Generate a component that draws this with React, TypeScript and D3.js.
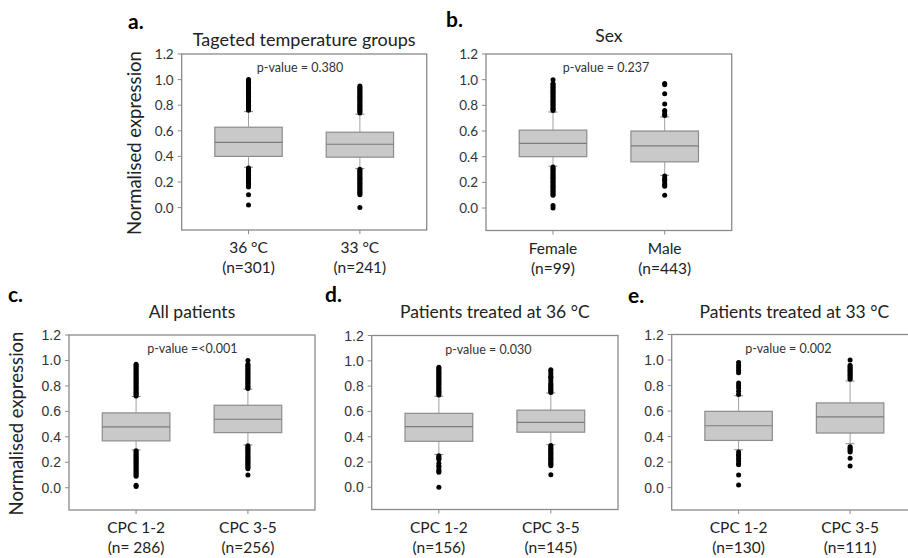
import React from "react";
import * as d3 from "d3";

// panel texts
const panelLabels = ["a.", "b.", "c.", "d.", "e."];
const panelTitles = [
  "Tageted temperature groups",
  "Sex",
  "All patients",
  "Patients treated at 36 °C",
  "Patients treated at 33 °C",
];
const pValues = [
  "p-value = 0.380",
  "p-value = 0.237",
  "p-value =<0.001",
  "p-value = 0.030",
  "p-value = 0.002",
];
const categories = [
  ["36 °C", "33 °C"],
  ["Female", "Male"],
  ["CPC 1-2", "CPC 3-5"],
  ["CPC 1-2", "CPC 3-5"],
  ["CPC 1-2", "CPC 3-5"],
];
const counts = [
  ["(n=301)", "(n=241)"],
  ["(n=99)", "(n=443)"],
  ["(n= 286)", "(n=256)"],
  ["(n=156)", "(n=145)"],
  ["(n=130)", "(n=111)"],
];
const yTicks = [0.0, 0.2, 0.4, 0.6, 0.8, 1.0, 1.2];

// box statistics, [panel][category]
const q1 = [[0.40, 0.394], [0.40, 0.36], [0.368, 0.433], [0.364, 0.436], [0.37, 0.428]];
const medians = [[0.51, 0.495], [0.503, 0.485], [0.478, 0.538], [0.48, 0.514], [0.485, 0.554]];
const q3 = [[0.628, 0.589], [0.607, 0.60], [0.588, 0.648], [0.585, 0.61], [0.598, 0.664]];
const whiskerLow = [[0.315, 0.305], [0.326, 0.255], [0.297, 0.336], [0.26, 0.337], [0.297, 0.344]];
const whiskerHigh = [[0.75, 0.73], [0.748, 0.71], [0.717, 0.774], [0.72, 0.746], [0.72, 0.836]];

// outliers, [panel][category]
const outliers = [
  [
    [0.76, 0.77, 0.78, 0.79, 0.8, 0.81, 0.82, 0.83, 0.84, 0.85, 0.86, 0.87, 0.88, 0.89, 0.9, 0.91, 0.92, 0.93, 0.94, 0.95, 0.96, 0.97, 0.98, 0.99, 1.0,
      0.31, 0.3, 0.29, 0.28, 0.27, 0.26, 0.25, 0.24, 0.23, 0.22, 0.21, 0.2, 0.19, 0.18, 0.17, 0.16, 0.1, 0.02],
    [0.74, 0.75, 0.76, 0.77, 0.78, 0.79, 0.8, 0.81, 0.82, 0.83, 0.84, 0.85, 0.86, 0.87, 0.88, 0.89, 0.9, 0.91, 0.92, 0.93, 0.94, 0.95,
      0.3, 0.29, 0.28, 0.27, 0.26, 0.25, 0.24, 0.23, 0.22, 0.21, 0.2, 0.19, 0.18, 0.17, 0.16, 0.15, 0.14, 0.13, 0.12, 0.11, 0.1, 0.0],
  ],
  [
    [0.76, 0.77, 0.78, 0.79, 0.8, 0.81, 0.82, 0.83, 0.84, 0.85, 0.86, 0.87, 0.88, 0.89, 0.9, 0.91, 0.92, 0.93, 0.94, 0.95, 0.96, 0.97, 1.0,
      0.32, 0.31, 0.3, 0.29, 0.28, 0.27, 0.26, 0.25, 0.24, 0.23, 0.22, 0.21, 0.2, 0.19, 0.18, 0.17, 0.16, 0.15, 0.14, 0.13, 0.12, 0.11, 0.1, 0.02, 0.0],
    [0.72, 0.73, 0.75, 0.76, 0.81, 0.89, 0.96, 0.97,
      0.25, 0.23, 0.22, 0.21, 0.19, 0.18, 0.17, 0.1],
  ],
  [
    [0.72, 0.73, 0.74, 0.75, 0.76, 0.77, 0.78, 0.79, 0.8, 0.81, 0.82, 0.83, 0.84, 0.85, 0.86, 0.87, 0.88, 0.89, 0.9, 0.91, 0.92, 0.93, 0.94, 0.95, 0.96, 0.97,
      0.29, 0.28, 0.27, 0.26, 0.25, 0.24, 0.23, 0.22, 0.21, 0.2, 0.19, 0.18, 0.17, 0.16, 0.15, 0.14, 0.13, 0.12, 0.11, 0.1, 0.09, 0.02, 0.01],
    [0.78, 0.79, 0.8, 0.81, 0.82, 0.83, 0.84, 0.85, 0.86, 0.87, 0.88, 0.89, 0.9, 0.91, 0.92, 0.93, 0.94, 0.95, 0.96, 0.97, 1.0,
      0.33, 0.32, 0.31, 0.3, 0.29, 0.28, 0.27, 0.26, 0.25, 0.24, 0.23, 0.22, 0.21, 0.2, 0.19, 0.18, 0.17, 0.16, 0.15, 0.1],
  ],
  [
    [0.73, 0.74, 0.75, 0.76, 0.77, 0.78, 0.79, 0.8, 0.81, 0.82, 0.83, 0.84, 0.85, 0.86, 0.87, 0.88, 0.89, 0.9, 0.91, 0.92, 0.93, 0.94, 0.95,
      0.25, 0.24, 0.23, 0.22, 0.19, 0.17, 0.16, 0.14, 0.13, 0.12, 0.0],
    [0.75, 0.76, 0.77, 0.78, 0.79, 0.8, 0.81, 0.82, 0.84, 0.86, 0.87, 0.88, 0.9, 0.92, 0.93,
      0.33, 0.32, 0.31, 0.3, 0.29, 0.28, 0.27, 0.26, 0.25, 0.24, 0.23, 0.22, 0.21, 0.2, 0.19, 0.18, 0.17, 0.1],
  ],
  [
    [0.73, 0.755, 0.78, 0.8, 0.82, 0.9, 0.92, 0.94, 0.96, 0.98,
      0.28, 0.26, 0.25, 0.23, 0.21, 0.19, 0.18, 0.1, 0.02],
    [0.85, 0.86, 0.87, 0.88, 0.89, 0.9, 0.91, 0.92, 0.93, 0.94, 0.95, 0.96, 1.0,
      0.32, 0.31, 0.3, 0.29, 0.28, 0.23, 0.17],
  ],
];

// layout of each panel (pixels)
const frames = [
  { x0: 181.7, x1: 426.7, y0: 54, y1: 230, px: 300, lx: 128, ly: 29, ty: 46, tf: 18, tickFont: "Lato", tickSize: 13.5, yLabelX: 134 },
  { x0: 486, x1: 731.7, y0: 54, y1: 230.5, px: 606, lx: 446, ly: 27, ty: 42, tf: 17.5, tickFont: "Lato", tickSize: 13.5, yLabelX: null },
  { x0: 69, x1: 315, y0: 335, y1: 510, px: 192.4, lx: 8, ly: 302, ty: 317.5, tf: 17.5, tickFont: "Liberation Sans", tickSize: 14, yLabelX: 16 },
  { x0: 371.7, x1: 618, y0: 335.5, y1: 509.5, px: 488.3, lx: 325, ly: 302, ty: 318, tf: 17.5, tickFont: "Liberation Sans", tickSize: 14, yLabelX: null },
  { x0: 671.7, x1: 917, y0: 334.5, y1: 510, px: 788.3, lx: 628, ly: 303, ty: 318, tf: 17.5, tickFont: "Liberation Sans", tickSize: 14, yLabelX: null },
];

const FRAME = "#8a8a8a";
const BOX_FILL = "#c9c9c9";
const BOX_STROKE = "#8c8c8c";
const WHISKER = "#a0a0a0";

function Panel({ i }: { i: number }) {
  const f = frames[i];
  const y = d3.scaleLinear().domain([-0.175, 1.2]).range([f.y1, f.y0]);
  const x = d3.scalePoint<string>().domain(["0", "1"]).range([f.x0, f.x1]).padding(0.6);
  const boxW = (f.x1 - f.x0) * 0.275;
  const capW = 9;
  const tcx = (f.x0 + f.x1) / 2;

  return (
    <g>
      <text x={f.lx} y={f.ly} fontFamily="Lato" fontWeight="bold" fontSize={21} fill="#000">
        {panelLabels[i]}
      </text>
      <text x={tcx} y={f.ty} textAnchor="middle" fontFamily="Lato" fontSize={f.tf} fill="#222">
        {panelTitles[i]}
      </text>
      {f.yLabelX !== null && (
        <text
          transform={`translate(${f.yLabelX},${(f.y0 + f.y1) / 2 + 1}) rotate(-90)`}
          textAnchor="middle"
          dominantBaseline="central"
          fontFamily="Lato"
          fontSize={18.5}
          fill="#222"
        >
          Normalised expression
        </text>
      )}
      <rect x={f.x0} y={f.y0} width={f.x1 - f.x0} height={f.y1 - f.y0} fill="none" stroke={FRAME} strokeWidth={1.3} />
      {yTicks.map((t) => (
        <g key={t}>
          <line x1={f.x0 - 4} x2={f.x0} y1={y(t)} y2={y(t)} stroke={FRAME} />
          <text
            x={f.x0 - 8}
            y={y(t)}
            textAnchor="end"
            dominantBaseline="central"
            fontFamily={f.tickFont}
            fontSize={f.tickSize}
            fill="#333"
          >
            {d3.format(".1f")(t)}
          </text>
        </g>
      ))}
      <text x={f.px} y={f.y0 + 18} textAnchor="middle" fontFamily="Lato" fontSize={12.5} fill="#333">
        {pValues[i]}
      </text>
      {[0, 1].map((j) => {
        const cx = x(String(j)) as number;
        return (
          <g key={j}>
            <line x1={cx} x2={cx} y1={f.y1} y2={f.y1 + 4} stroke={FRAME} />
            <line x1={cx} x2={cx} y1={y(whiskerHigh[i][j])} y2={y(q3[i][j])} stroke={WHISKER} />
            <line x1={cx} x2={cx} y1={y(q1[i][j])} y2={y(whiskerLow[i][j])} stroke={WHISKER} />
            <line x1={cx - capW / 2} x2={cx + capW / 2} y1={y(whiskerHigh[i][j])} y2={y(whiskerHigh[i][j])} stroke="#888" />
            <line x1={cx - capW / 2} x2={cx + capW / 2} y1={y(whiskerLow[i][j])} y2={y(whiskerLow[i][j])} stroke="#888" />
            <rect
              x={cx - boxW / 2}
              y={y(q3[i][j])}
              width={boxW}
              height={y(q1[i][j]) - y(q3[i][j])}
              fill={BOX_FILL}
              stroke={BOX_STROKE}
              strokeWidth={1.2}
            />
            <line x1={cx - boxW / 2} x2={cx + boxW / 2} y1={y(medians[i][j])} y2={y(medians[i][j])} stroke="#7a7a7a" strokeWidth={1.2} />
            {outliers[i][j].map((v, k) => (
              <circle key={k} cx={cx} cy={y(v)} r={2.5} fill="#000" />
            ))}
            <text x={cx} y={f.y1 + 23} textAnchor="middle" fontFamily="Lato" fontSize={15.5} fill="#222">
              {categories[i][j]}
            </text>
            <text x={cx} y={f.y1 + 43} textAnchor="middle" fontFamily="Lato" fontSize={15.5} fill="#222">
              {counts[i][j]}
            </text>
          </g>
        );
      })}
    </g>
  );
}

export default function App() {
  return (
    <svg
      width={908}
      height={558}
      style={{ position: "absolute", left: 0, top: 0, background: "#fff" }}
    >
      {panelLabels.map((_, i) => (
        <Panel key={i} i={i} />
      ))}
    </svg>
  );
}
